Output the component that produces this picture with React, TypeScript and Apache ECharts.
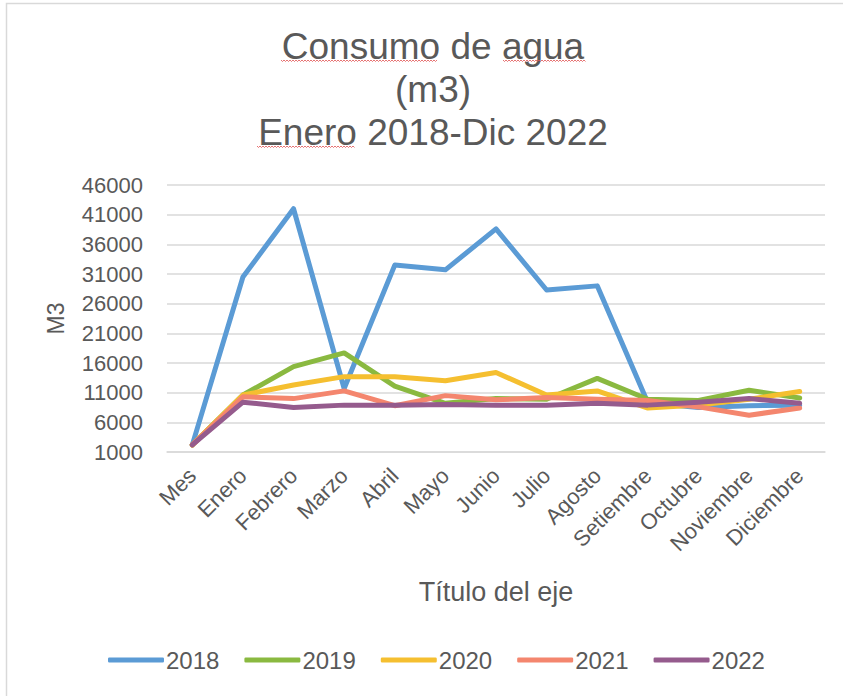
import React, { useEffect, useRef } from "react";
import * as echarts from "echarts";

const categories = ["Mes", "Enero", "Febrero", "Marzo", "Abril", "Mayo", "Junio", "Julio", "Agosto", "Setiembre", "Octubre", "Noviembre", "Diciembre"];
const seriesNames = ["2018", "2019", "2020", "2021", "2022"];
const s2018 = [2200, 30500, 42000, 11700, 32500, 31700, 38600, 28300, 29000, 9300, 8500, 8800, 8900];
const s2019 = [2200, 10600, 15400, 17700, 12100, 9200, 10000, 9900, 13400, 9900, 9700, 11400, 10100];
const s2020 = [2200, 10600, 12300, 13700, 13700, 13000, 14400, 10600, 11300, 8400, 8900, 9900, 11200];
const s2021 = [2200, 10300, 10000, 11300, 8800, 10500, 9800, 10200, 9900, 9700, 8600, 7200, 8400];
const s2022 = [2200, 9400, 8500, 8900, 8900, 9000, 8900, 8900, 9200, 8900, 9400, 10000, 9200];
const seriesColors = ["#5B9BD5", "#8AB940", "#F5BF30", "#F4866E", "#955B8D"];
const titleLines = ["Consumo de agua", "(m3)", "Enero 2018-Dic 2022"];
const yAxisName = "M3";
const xAxisName = "Título del eje";

const FONT = "'Liberation Sans', Arial, sans-serif";
const TXT = "#595959";

function wavy(x0: number, x1: number, y: number): number[][] {
  const pts: number[][] = [];
  let k = 0;
  for (let x = x0; x <= x1; x += 1.5) {
    pts.push([x, y + (k % 2 === 0 ? 0 : 1.5)]);
    k++;
  }
  return pts;
}

export default function App() {
  const ref = useRef<HTMLDivElement>(null);
  useEffect(() => {
    if (!ref.current) return;
    const chart = echarts.init(ref.current, null, { renderer: "svg" });
    const data = [s2018, s2019, s2020, s2021, s2022];
    const titleY = [46, 89, 132];
    const underlines = [
      [281, 438, 60],
      [503, 586, 60],
      [257, 355, 146],
    ];
    chart.setOption({
      animation: false,
      backgroundColor: "#ffffff",
      color: seriesColors,
      textStyle: { fontFamily: FONT },
      grid: { left: 167, right: 18, top: 185, bottom: 244, containLabel: false },
      graphic: [
        {
          type: "rect",
          shape: { x: 6.5, y: 3.5, width: 900, height: 800 },
          style: { fill: "none", stroke: "#D9D9D9", lineWidth: 1.5 },
          silent: true,
        },
        ...titleLines.map((t, i) => ({
          type: "text",
          x: 433,
          y: titleY[i],
          style: {
            text: t,
            fill: TXT,
            font: `37px ${FONT}`,
            textAlign: "center",
            textVerticalAlign: "middle",
          },
        })),
        ...underlines.map((u) => ({
          type: "polyline",
          shape: { points: wavy(u[0], u[1], u[2]) },
          style: { stroke: "#E05050", lineWidth: 0.8, fill: "none" },
          silent: true,
        })),
      ],
      legend: {
        data: seriesNames,
        left: 103,
        top: 643,
        icon: "roundRect",
        itemWidth: 56,
        itemHeight: 5,
        itemGap: 25,
        textStyle: { color: TXT, fontSize: 24, fontFamily: FONT, padding: [0, 0, 0, -3] },
      },
      xAxis: {
        type: "category",
        data: categories,
        boundaryGap: true,
        name: xAxisName,
        nameLocation: "middle",
        nameGap: 126,
        nameTextStyle: { color: TXT, fontSize: 27, fontFamily: FONT },
        axisLine: { show: true, lineStyle: { color: "#D9D9D9", width: 1.5 } },
        axisTick: { show: false },
        axisLabel: { rotate: 45, color: TXT, fontSize: 22, fontFamily: FONT, margin: 20, interval: 0 },
      },
      yAxis: {
        type: "value",
        min: 1000,
        max: 46000,
        interval: 5000,
        name: yAxisName,
        nameLocation: "middle",
        nameRotate: 90,
        nameGap: 100,
        nameTextStyle: { color: TXT, fontSize: 23, fontFamily: FONT },
        axisLine: { show: false },
        axisTick: { show: false },
        axisLabel: { color: TXT, fontSize: 22, fontFamily: FONT, margin: 24, formatter: (v: number) => String(v) },
        splitLine: { show: true, lineStyle: { color: "#D9D9D9", width: 1.5 } },
      },
      series: seriesNames.map((n, i) => ({
        name: n,
        type: "line",
        data: data[i],
        symbol: "none",
        smooth: false,
        lineStyle: { width: 5, color: seriesColors[i], cap: "round", join: "round" },
        itemStyle: { color: seriesColors[i] },
      })),
    });
    return () => chart.dispose();
  }, []);
  return (
    <div
      ref={ref}
      style={{ position: "fixed", left: 0, top: 0, width: 843, height: 696, background: "#fff" }}
    />
  );
}
